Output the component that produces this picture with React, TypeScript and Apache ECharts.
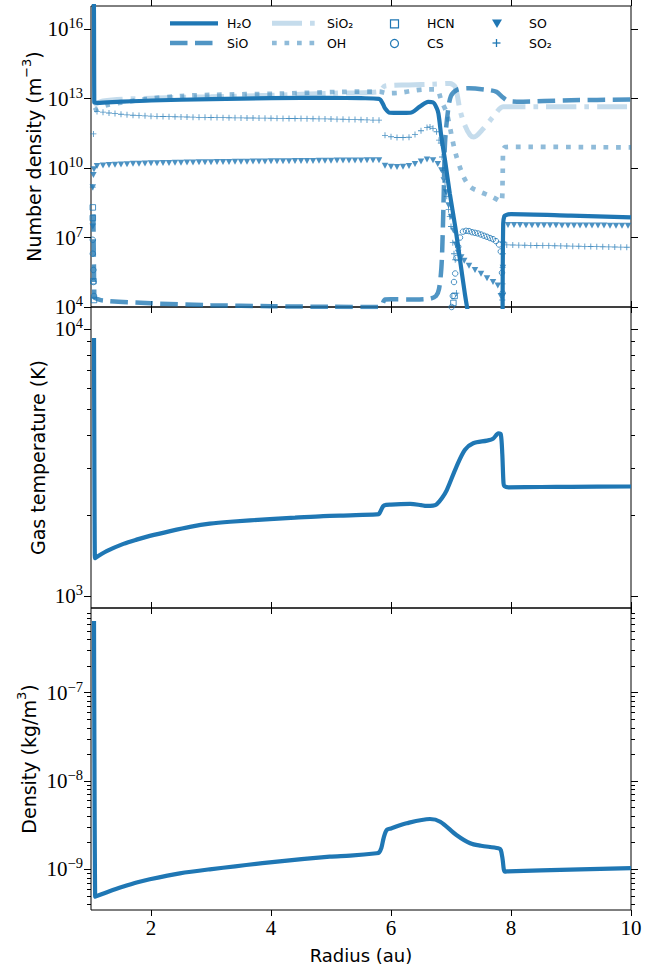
import React, { useEffect, useRef } from "react";
import * as echarts from "echarts";

// ---------------- data ----------------
// Panel 1: number densities (m^-3) vs radius (au)
const h2oR = [1.0, 1.04, 1.055, 1.06, 1.1, 1.5, 2.0, 3.0, 4.0, 5.0, 5.5, 5.8, 5.86, 5.9, 5.98, 6.15, 6.32, 6.48, 6.62, 6.7, 6.76, 6.79, 6.84, 6.9, 6.98, 7.07, 7.15, 7.23, 7.3, 7.5, 7.86, 7.87, 7.89, 7.92, 8.0, 9.0, 10.0];
const h2oN = [5e17, 5e17, 6.8e12, 6.7e12, 6.6e12, 7.4e12, 8.3e12, 9.5e12, 1.05e13, 1.07e13, 1.04e13, 9.8e12, 6.3e12, 3.8e12, 2.45e12, 2.4e12, 2.45e12, 4.5e12, 7.2e12, 6.9e12, 4.0e12, 2.3e12, 2.2e11, 2.2e10, 8e8, 3e7, 1.1e6, 3.9e4, 3.2e3, null, 3e3, 4e7, 8.5e7, 9.5e7, 1.02e8, 8.8e7, 7.4e7];

const sioR = [1.04, 1.055, 1.06, 1.2, 2.0, 3.0, 4.0, 5.0, 5.82, 5.9, 6.0, 6.4, 6.65, 6.75, 6.8, 6.84, 6.86, 6.88, 6.9, 6.95, 7.0, 7.1, 7.3, 7.6, 7.76, 7.85, 7.95, 8.1, 9.0, 10.0];
const sioN = [1e8, 2.5e4, 2.45e4, 1.9e4, 1.45e4, 1.2e4, 1.08e4, 1.02e4, 1.0e4, 2.1e4, 2.15e4, 2.1e4, 2.3e4, 3e4, 6e4, 5e5, 1e7, 1e9, 1.2e11, 3e12, 1.3e13, 2.4e13, 2.8e13, 2.4e13, 1.95e13, 1.2e13, 8e12, 7.4e12, 8.5e12, 9.1e12];

const sio2R = [1.05, 1.2, 2.0, 3.0, 4.0, 5.0, 5.8, 5.9, 6.3, 6.7, 6.98, 7.07, 7.15, 7.23, 7.32, 7.38, 7.54, 7.7, 7.87, 8.2, 10.0];
const sio2N = [5e12, 8e12, 1.05e13, 1.2e13, 1.4e13, 1.7e13, 2.0e13, 3.5e13, 3.9e13, 4.2e13, 4.5e13, 3.2e13, 3.2e12, 7.2e11, 2.6e11, 2.2e11, 5.1e11, 1.6e12, 4.4e12, 4.5e12, 4.5e12];

const ohR = [1.05, 1.26, 2.0, 2.5, 3.0, 4.15, 5.15, 5.8, 5.95, 6.15, 6.37, 6.57, 6.76, 6.84, 6.93, 7.07, 7.21, 7.32, 7.48, 7.68, 7.84, 7.86, 7.87, 7.9, 8.04, 10.0];
const ohN = [3e12, 5.2e12, 1.0e13, 1.3e13, 1.45e13, 1.65e13, 1.95e13, 2.0e13, 1.7e13, 1.8e13, 2.2e13, 2.5e13, 2.5e13, 8e12, 2.3e12, 5e10, 4.2e9, 1.55e9, 9.5e8, 5.8e8, 3.5e8, 3e9, 6e10, 8.0e10, 8.3e10, 7.8e10];

const hcnR = [1.03, 1.03, 1.04, 1.05, 7.04, 7.06];
const hcnN = [2e8, 7e7, 1.3e5, 2e4, 1.5e4, 3e4];

const csR = [1.03, 1.03, 1.04, 1.04, 1.05, 7.01, 7.03, 7.05, 7.07, 7.09, 7.12, 7.15, 7.2, 7.25, 7.3, 7.35, 7.4, 7.45, 7.5, 7.55, 7.6, 7.65, 7.7, 7.75, 7.8, 7.83, 7.85, 7.86];
const csN = [8e6, 2e6, 4e5, 1.2e5, 3e4, 1e4, 3e4, 1.2e5, 2.8e5, 1.3e6, 4e6, 1e7, 1.8e7, 1.95e7, 1.9e7, 1.7e7, 1.6e7, 1.5e7, 1.35e7, 1.2e7, 1.08e7, 9.5e6, 8.5e6, 7e6, 5e6, 2.5e6, 3e5, 4e4];

const soR = [
  1.03, 1.03, 1.04, 1.05,
  1.1, 1.2, 1.3, 1.4, 1.5, 1.6, 1.7, 1.8, 1.9, 2.0,
  2.1, 2.2, 2.3, 2.4, 2.5, 2.6, 2.7, 2.8, 2.9, 3.0,
  3.1, 3.2, 3.3, 3.4, 3.5, 3.6, 3.7, 3.8, 3.9, 4.0,
  4.1, 4.2, 4.3, 4.4, 4.5, 4.6, 4.7, 4.8, 4.9, 5.0,
  5.1, 5.2, 5.3, 5.4, 5.5, 5.6, 5.7, 5.8,
  5.9, 6.0, 6.1, 6.2, 6.3, 6.4, 6.5, 6.6, 6.7, 6.78,
  6.84, 6.88, 6.92, 6.96, 7.0, 7.04, 7.08, 7.12, 7.17, 7.22,
  7.3, 7.4, 7.5, 7.6, 7.7, 7.78, 7.83,
  7.86, 7.865, 7.87,
  7.95, 8.05, 8.15, 8.25, 8.35, 8.45, 8.55, 8.65, 8.75, 8.85, 8.95, 9.05, 9.15, 9.25, 9.35, 9.45, 9.55, 9.65, 9.75, 9.85, 9.95,
];
const soN = [
  3e7, 1.5e9, 5e9, 9e9,
  1.23e10, 1.30e10, 1.35e10, 1.40e10, 1.44e10, 1.48e10, 1.52e10, 1.55e10, 1.58e10, 1.60e10,
  1.63e10, 1.65e10, 1.67e10, 1.69e10, 1.71e10, 1.73e10, 1.75e10, 1.77e10, 1.78e10, 1.80e10,
  1.82e10, 1.83e10, 1.85e10, 1.86e10, 1.87e10, 1.89e10, 1.90e10, 1.92e10, 1.93e10, 1.95e10,
  1.96e10, 1.98e10, 1.99e10, 2.00e10, 2.02e10, 2.03e10, 2.04e10, 2.06e10, 2.07e10, 2.08e10,
  2.10e10, 2.11e10, 2.12e10, 2.14e10, 2.15e10, 2.16e10, 2.18e10, 2.19e10,
  1.25e10, 1.15e10, 1.12e10, 1.15e10, 1.23e10, 1.5e10, 1.9e10, 2.35e10, 2.2e10, 1.5e10,
  8e9, 3e9, 9e8, 2.5e8, 8e7, 2e7, 5e6, 2.2e6, 1.4e6, 1.0e6,
  6e5, 4e5, 2.7e5, 1.75e5, 1.2e5, 8.5e4, 3e4,
  3e4, 5e5, 5e6,
  3.47e7, 3.45e7, 3.44e7, 3.42e7, 3.41e7, 3.40e7, 3.38e7, 3.37e7, 3.36e7, 3.35e7, 3.34e7, 3.32e7, 3.31e7, 3.30e7, 3.29e7, 3.28e7, 3.27e7, 3.26e7, 3.25e7, 3.24e7, 3.24e7,
];

const so2R = [
  1.03, 1.04,
  1.1, 1.2, 1.3, 1.4, 1.5, 1.6, 1.7, 1.8, 1.9, 2.0,
  2.1, 2.2, 2.3, 2.4, 2.5, 2.6, 2.7, 2.8, 2.9, 3.0,
  3.1, 3.2, 3.3, 3.4, 3.5, 3.6, 3.7, 3.8, 3.9, 4.0,
  4.1, 4.2, 4.3, 4.4, 4.5, 4.6, 4.7, 4.8, 4.9, 5.0,
  5.1, 5.2, 5.3, 5.4, 5.5, 5.6, 5.7, 5.8,
  5.9, 6.0, 6.1, 6.2, 6.3, 6.4, 6.5, 6.6, 6.65, 6.7, 6.76, 6.8, 6.83, 6.85, 6.87, 6.9, 6.93, 6.96, 6.98, 7.0, 7.03, 7.05, 7.07, 7.09,
  7.855, 7.86, 7.86, 7.865,
  7.93, 8.03, 8.13, 8.23, 8.33, 8.43, 8.53, 8.63, 8.73, 8.83, 8.93, 9.03, 9.13, 9.23, 9.33, 9.43, 9.53, 9.63, 9.73, 9.83, 9.93,
];
const so2N = [
  1.5e9, 3e11,
  2.8e12, 2.6e12, 2.4e12, 2.25e12, 2.12e12, 2.0e12, 1.92e12, 1.85e12, 1.8e12, 1.75e12,
  1.72e12, 1.69e12, 1.66e12, 1.64e12, 1.62e12, 1.6e12, 1.58e12, 1.56e12, 1.55e12, 1.53e12,
  1.52e12, 1.5e12, 1.49e12, 1.48e12, 1.47e12, 1.46e12, 1.45e12, 1.44e12, 1.43e12, 1.42e12,
  1.41e12, 1.40e12, 1.39e12, 1.38e12, 1.37e12, 1.36e12, 1.35e12, 1.34e12, 1.33e12, 1.32e12,
  1.3e12, 1.28e12, 1.26e12, 1.24e12, 1.22e12, 1.2e12, 1.18e12, 1.17e12,
  2.6e11, 2.25e11, 2.1e11, 2.1e11, 2.15e11, 2.8e11, 4.1e11, 5.6e11, 6e11, 5.2e11, 3.7e11, 1.6e11, 1.2e11, 3e10, 8e9, 2.5e9, 6e8, 1.6e8, 8e7, 3e7, 6e6, 2e6, 1.1e6, 4e4,
  2e4, 1e5, 5e5, 2e6,
  4.8e6, 4.75e6, 4.7e6, 4.65e6, 4.6e6, 4.55e6, 4.5e6, 4.45e6, 4.4e6, 4.35e6, 4.3e6, 4.25e6, 4.2e6, 4.15e6, 4.1e6, 4.05e6, 4.0e6, 3.95e6, 3.9e6, 3.85e6, 3.8e6,
];

// Panel 2: gas temperature (K)
const tempR = [1.05, 1.065, 1.07, 1.26, 1.54, 1.76, 1.98, 2.32, 2.65, 2.98, 3.32, 3.98, 4.4, 4.87, 5.32, 5.76, 5.8, 5.87, 5.92, 6.0, 6.32, 6.5, 6.59, 6.7, 6.76, 6.85, 6.93, 7.09, 7.23, 7.37, 7.6, 7.7, 7.79, 7.83, 7.855, 7.875, 7.89, 7.96, 8.5, 9.0, 10.0];
const tempK = [9250, 1385, 1392, 1472, 1567, 1626, 1679, 1750, 1815, 1866, 1897, 1941, 1965, 1993, 2005, 2020, 2030, 2170, 2195, 2200, 2212, 2190, 2174, 2180, 2204, 2330, 2494, 3048, 3524, 3733, 3820, 3880, 4066, 4030, 3400, 2650, 2580, 2553, 2560, 2565, 2571];

// Panel 3: density (kg/m^3)
const rhoR = [1.05, 1.07, 1.075, 1.32, 1.54, 1.76, 1.98, 2.48, 2.98, 3.98, 4.98, 5.32, 5.76, 5.8, 5.84, 5.88, 5.93, 6.0, 6.26, 6.65, 6.82, 7.09, 7.32, 7.5, 7.79, 7.83, 7.86, 7.88, 7.9, 7.93, 8.5, 10.0];
const rhoV = [6.5e-7, 4.9e-10, 4.93e-10, 5.69e-10, 6.38e-10, 7.08e-10, 7.71e-10, 9.0e-10, 1.0e-9, 1.2e-9, 1.39e-9, 1.43e-9, 1.52e-9, 1.55e-9, 1.75e-9, 2.3e-9, 2.79e-9, 2.9e-9, 3.32e-9, 3.71e-9, 3.46e-9, 2.45e-9, 1.97e-9, 1.85e-9, 1.73e-9, 1.65e-9, 1.3e-9, 1.0e-9, 9.4e-10, 9.45e-10, 9.7e-10, 1.03e-9];

// Axis ticks
const xTicks = [2, 4, 6, 8, 10];
const p1Major = [4, 7, 10, 13, 16]; // exponents
const p2Major = [3, 4];
const p3Major = [-9, -8, -7];
const p2MinorVals = [2000, 3000, 4000, 5000, 6000, 7000, 8000, 9000];
const p3MinorVals = [4e-10, 5e-10, 6e-10, 7e-10, 8e-10, 9e-10, 2e-9, 3e-9, 4e-9, 5e-9, 6e-9, 7e-9, 8e-9, 9e-9, 2e-8, 3e-8, 4e-8, 5e-8, 6e-8, 7e-8, 8e-8, 9e-8, 2e-7, 3e-7, 4e-7, 5e-7, 6e-7, 7e-7, 8e-7];

// ---------------- styling ----------------
const BLUE = "#1f77b4";
const SIO_C = "rgba(31,119,180,0.78)";
const OH_C = "rgba(31,119,180,0.5)";
const SIO2_C = "rgba(31,119,180,0.26)";
const SERIF = "'Liberation Serif', 'DejaVu Serif', serif";
const SANS = "'DejaVu Sans', sans-serif";

const SIO_DASH = [17.5, 7.5];
const SIO2_DASH = [30, 8, 4.7, 8];
const OH_DASH = [4.7, 7.8];

const PLUS = "path://M4.3,0H5.7V4.3H10V5.7H5.7V10H4.3V5.7H0V4.3H4.3Z";

const GRIDS = [
  { left: 91, top: 6, width: 540, height: 301 },
  { left: 91, top: 307, width: 540, height: 301 },
  { left: 91, top: 608, width: 540, height: 302 },
];
const EXT: [number, number][] = [
  [4, 17],
  [2.955, 4.0825],
  [-9.461, -6.041],
];

const zip = (r: number[], v: (number | null)[]) => r.map((x, i) => [x, v[i]]);

const supLabel = (v: number) => {
  const e = Math.round(v);
  return `{b|10}{s|${e < 0 ? "\u2212" + -e : e}}`;
};
const LABEL_RICH = {
  b: { fontFamily: SERIF, fontSize: 21, color: "#000", verticalAlign: "bottom", lineHeight: 21 },
  s: { fontFamily: SERIF, fontSize: 14.5, color: "#000", verticalAlign: "bottom", lineHeight: 15, padding: [0, 0, 9, 0] },
};

function buildOption() {
  const tickLine = { color: "#000", width: 1 };
  const xAxis: any[] = [];
  for (let g = 0; g < 3; g++) {
    xAxis.push({
      gridIndex: g,
      type: "value",
      min: 1,
      max: 10,
      position: "bottom",
      axisLine: { show: false },
      splitLine: { show: false },
      axisTick: { show: true, customValues: xTicks, length: 6, lineStyle: tickLine },
      axisLabel: {
        show: g === 2,
        customValues: xTicks,
        fontFamily: SERIF,
        fontSize: 21,
        color: "#000",
        margin: 7,
      },
    });
  }
  for (let g = 0; g < 3; g++) {
    xAxis.push({
      gridIndex: g,
      type: "value",
      min: 1,
      max: 10,
      position: "top",
      axisLine: { show: false },
      splitLine: { show: false },
      axisTick: { show: true, customValues: xTicks, length: 6, lineStyle: tickLine },
      axisLabel: { show: false },
    });
  }

  const yAxis: any[] = [];
  // data (log) axes, hidden
  for (let g = 0; g < 3; g++) {
    yAxis.push({
      gridIndex: g,
      type: "log",
      logBase: 10,
      min: Math.pow(10, EXT[g][0]),
      max: Math.pow(10, EXT[g][1]),
      show: false,
    });
  }
  const majors = [p1Major, p2Major, p3Major];
  const minors = [[], p2MinorVals.map((v) => Math.log10(v)), p3MinorVals.map((v) => Math.log10(v))];
  for (let g = 0; g < 3; g++) {
    const base = {
      gridIndex: g,
      type: "value",
      min: EXT[g][0],
      max: EXT[g][1],
      axisLine: { show: false },
      splitLine: { show: false },
    };
    yAxis.push({
      ...base,
      position: "left",
      axisTick: { show: true, customValues: majors[g], length: 7, lineStyle: tickLine },
      axisLabel: { show: true, customValues: majors[g], formatter: supLabel, rich: LABEL_RICH, margin: 8 },
    });
    yAxis.push({
      ...base,
      position: "right",
      axisTick: { show: true, customValues: majors[g], length: 7, lineStyle: tickLine },
      axisLabel: { show: false },
    });
    if (minors[g].length) {
      yAxis.push({
        ...base,
        position: "left",
        axisTick: { show: true, customValues: minors[g], length: 4, lineStyle: tickLine },
        axisLabel: { show: false },
      });
      yAxis.push({
        ...base,
        position: "right",
        axisTick: { show: true, customValues: minors[g], length: 4, lineStyle: tickLine },
        axisLabel: { show: false },
      });
    }
  }

  const lineBase = {
    type: "line",
    symbol: "none",
    smooth: 0.3,
    clip: true,
    connectNulls: false,
  };

  const series: any[] = [
    {
      ...lineBase, name: "SiO2", xAxisIndex: 0, yAxisIndex: 0, z: 2,
      data: zip(sio2R, sio2N),
      lineStyle: { color: SIO2_C, width: 5, type: SIO2_DASH, cap: "butt" },
    },
    {
      ...lineBase, name: "OH", xAxisIndex: 0, yAxisIndex: 0, z: 3,
      data: zip(ohR, ohN),
      lineStyle: { color: OH_C, width: 4.7, type: OH_DASH, cap: "butt" },
    },
    {
      ...lineBase, name: "SiO", xAxisIndex: 0, yAxisIndex: 0, z: 4,
      data: zip(sioR, sioN),
      lineStyle: { color: SIO_C, width: 4.5, type: SIO_DASH, cap: "butt" },
    },
    {
      ...lineBase, name: "H2O", xAxisIndex: 0, yAxisIndex: 0, z: 5,
      data: zip(h2oR, h2oN),
      lineStyle: { color: BLUE, width: 4.2 },
    },
    {
      type: "scatter", name: "HCN", xAxisIndex: 0, yAxisIndex: 0, z: 6,
      data: zip(hcnR, hcnN), symbol: "rect", symbolSize: 5.5,
      itemStyle: { color: "rgba(255,255,255,0)", borderColor: BLUE, borderWidth: 1 },
    },
    {
      type: "scatter", name: "CS", xAxisIndex: 0, yAxisIndex: 0, z: 6,
      data: zip(csR, csN), symbol: "circle", symbolSize: 5.5,
      itemStyle: { color: "rgba(255,255,255,0)", borderColor: BLUE, borderWidth: 1 },
    },
    {
      type: "scatter", name: "SO", xAxisIndex: 0, yAxisIndex: 0, z: 6,
      data: zip(soR, soN), symbol: "triangle", symbolRotate: 180, symbolSize: [6.5, 6],
      itemStyle: { color: BLUE },
    },
    {
      type: "scatter", name: "SO2", xAxisIndex: 0, yAxisIndex: 0, z: 6,
      data: zip(so2R, so2N), symbol: PLUS, symbolSize: 6,
      itemStyle: { color: BLUE },
    },
    {
      ...lineBase, name: "Gas temperature", xAxisIndex: 1, yAxisIndex: 1, z: 5,
      data: zip(tempR, tempK),
      lineStyle: { color: BLUE, width: 4.2 },
    },
    {
      ...lineBase, name: "Density", xAxisIndex: 2, yAxisIndex: 2, z: 5,
      data: zip(rhoR, rhoV),
      lineStyle: { color: BLUE, width: 4.2 },
    },
  ];

  // legend (drawn as graphic for exact matplotlib-like layout)
  const r1 = 23.3;
  const r2 = 43;
  const legText = (x: number, y: number, t: string) => ({
    type: "text", x, y, z: 100,
    style: { text: t, fontFamily: SANS, fontSize: 12.5, fill: "#000", verticalAlign: "middle", align: "left" },
  });
  const graphic: any[] = [
    { type: "line", z: 100, shape: { x1: 170, y1: r1, x2: 218, y2: r1 }, style: { stroke: BLUE, lineWidth: 4.2 } },
    legText(227, r1, "H\u2082O"),
    { type: "line", z: 100, shape: { x1: 170, y1: r2, x2: 218, y2: r2 }, style: { stroke: SIO_C, lineWidth: 4.5, lineDash: SIO_DASH, lineCap: "butt" } },
    legText(227, r2, "SiO"),
    { type: "line", z: 100, shape: { x1: 272, y1: r1, x2: 320, y2: r1 }, style: { stroke: SIO2_C, lineWidth: 5, lineDash: SIO2_DASH, lineCap: "butt" } },
    legText(327, r1, "SiO\u2082"),
    { type: "line", z: 100, shape: { x1: 272, y1: r2, x2: 320, y2: r2 }, style: { stroke: OH_C, lineWidth: 4.7, lineDash: OH_DASH, lineCap: "butt" } },
    legText(327, r2, "OH"),
    { type: "rect", z: 100, shape: { x: 390.5, y: 19.8, width: 8, height: 8 }, style: { fill: "none", stroke: BLUE, lineWidth: 1.2 } },
    legText(427, r1, "HCN"),
    { type: "circle", z: 100, shape: { cx: 394.5, cy: r2 + 0.5, r: 4 }, style: { fill: "none", stroke: BLUE, lineWidth: 1.2 } },
    legText(427, r2, "CS"),
    { type: "polygon", z: 100, shape: { points: [[492, 19.5], [502, 19.5], [497, 28]] }, style: { fill: BLUE } },
    legText(529, r1, "SO"),
    { type: "line", z: 100, shape: { x1: 492.5, y1: r2, x2: 500.5, y2: r2 }, style: { stroke: BLUE, lineWidth: 1.3 } },
    { type: "line", z: 100, shape: { x1: 496.5, y1: r2 - 4, x2: 496.5, y2: r2 + 4 }, style: { stroke: BLUE, lineWidth: 1.3 } },
    legText(529, r2, "SO\u2082"),
  ];

  const titleRich = {
    a: { fontFamily: SANS, fontSize: 19, fill: "#000", verticalAlign: "bottom", lineHeight: 22 },
    s: { fontFamily: SANS, fontSize: 13, fill: "#000", verticalAlign: "bottom", lineHeight: 14, padding: [0, 0, 10, 0] },
  };
  const yTitle = (x: number, y: number, text: string) => ({
    type: "text", x, y, rotation: Math.PI / 2, z: 100,
    style: { text, rich: titleRich, align: "center", verticalAlign: "middle" },
  });
  graphic.push(yTitle(32, 156.5, "{a|Number density (m}{s|\u22123}{a|)}"));
  graphic.push(yTitle(36, 457.5, "{a|Gas temperature (K)}"));
  graphic.push(yTitle(27, 759, "{a|Density (kg/m}{s|3}{a|)}"));
  graphic.push({
    type: "text", x: 361, y: 955, z: 100,
    style: { text: "Radius (au)", fontFamily: SANS, fontSize: 18, fill: "#000", align: "center", verticalAlign: "middle" },
  });

  return {
    animation: false,
    backgroundColor: "#fff",
    grid: GRIDS.map((g) => ({ ...g, show: true, borderColor: "#000", borderWidth: 1, backgroundColor: "transparent" })),
    xAxis,
    yAxis,
    series,
    graphic,
  };
}

export default function App() {
  const ref = useRef<HTMLDivElement>(null);
  useEffect(() => {
    if (!ref.current) return;
    const chart = echarts.init(ref.current, undefined, { renderer: "svg" });
    chart.setOption(buildOption() as any);
    return () => {
      chart.dispose();
    };
  }, []);
  return (
    <div
      ref={ref}
      style={{ position: "fixed", left: 0, top: 0, width: 664, height: 974, background: "#fff" }}
    />
  );
}
